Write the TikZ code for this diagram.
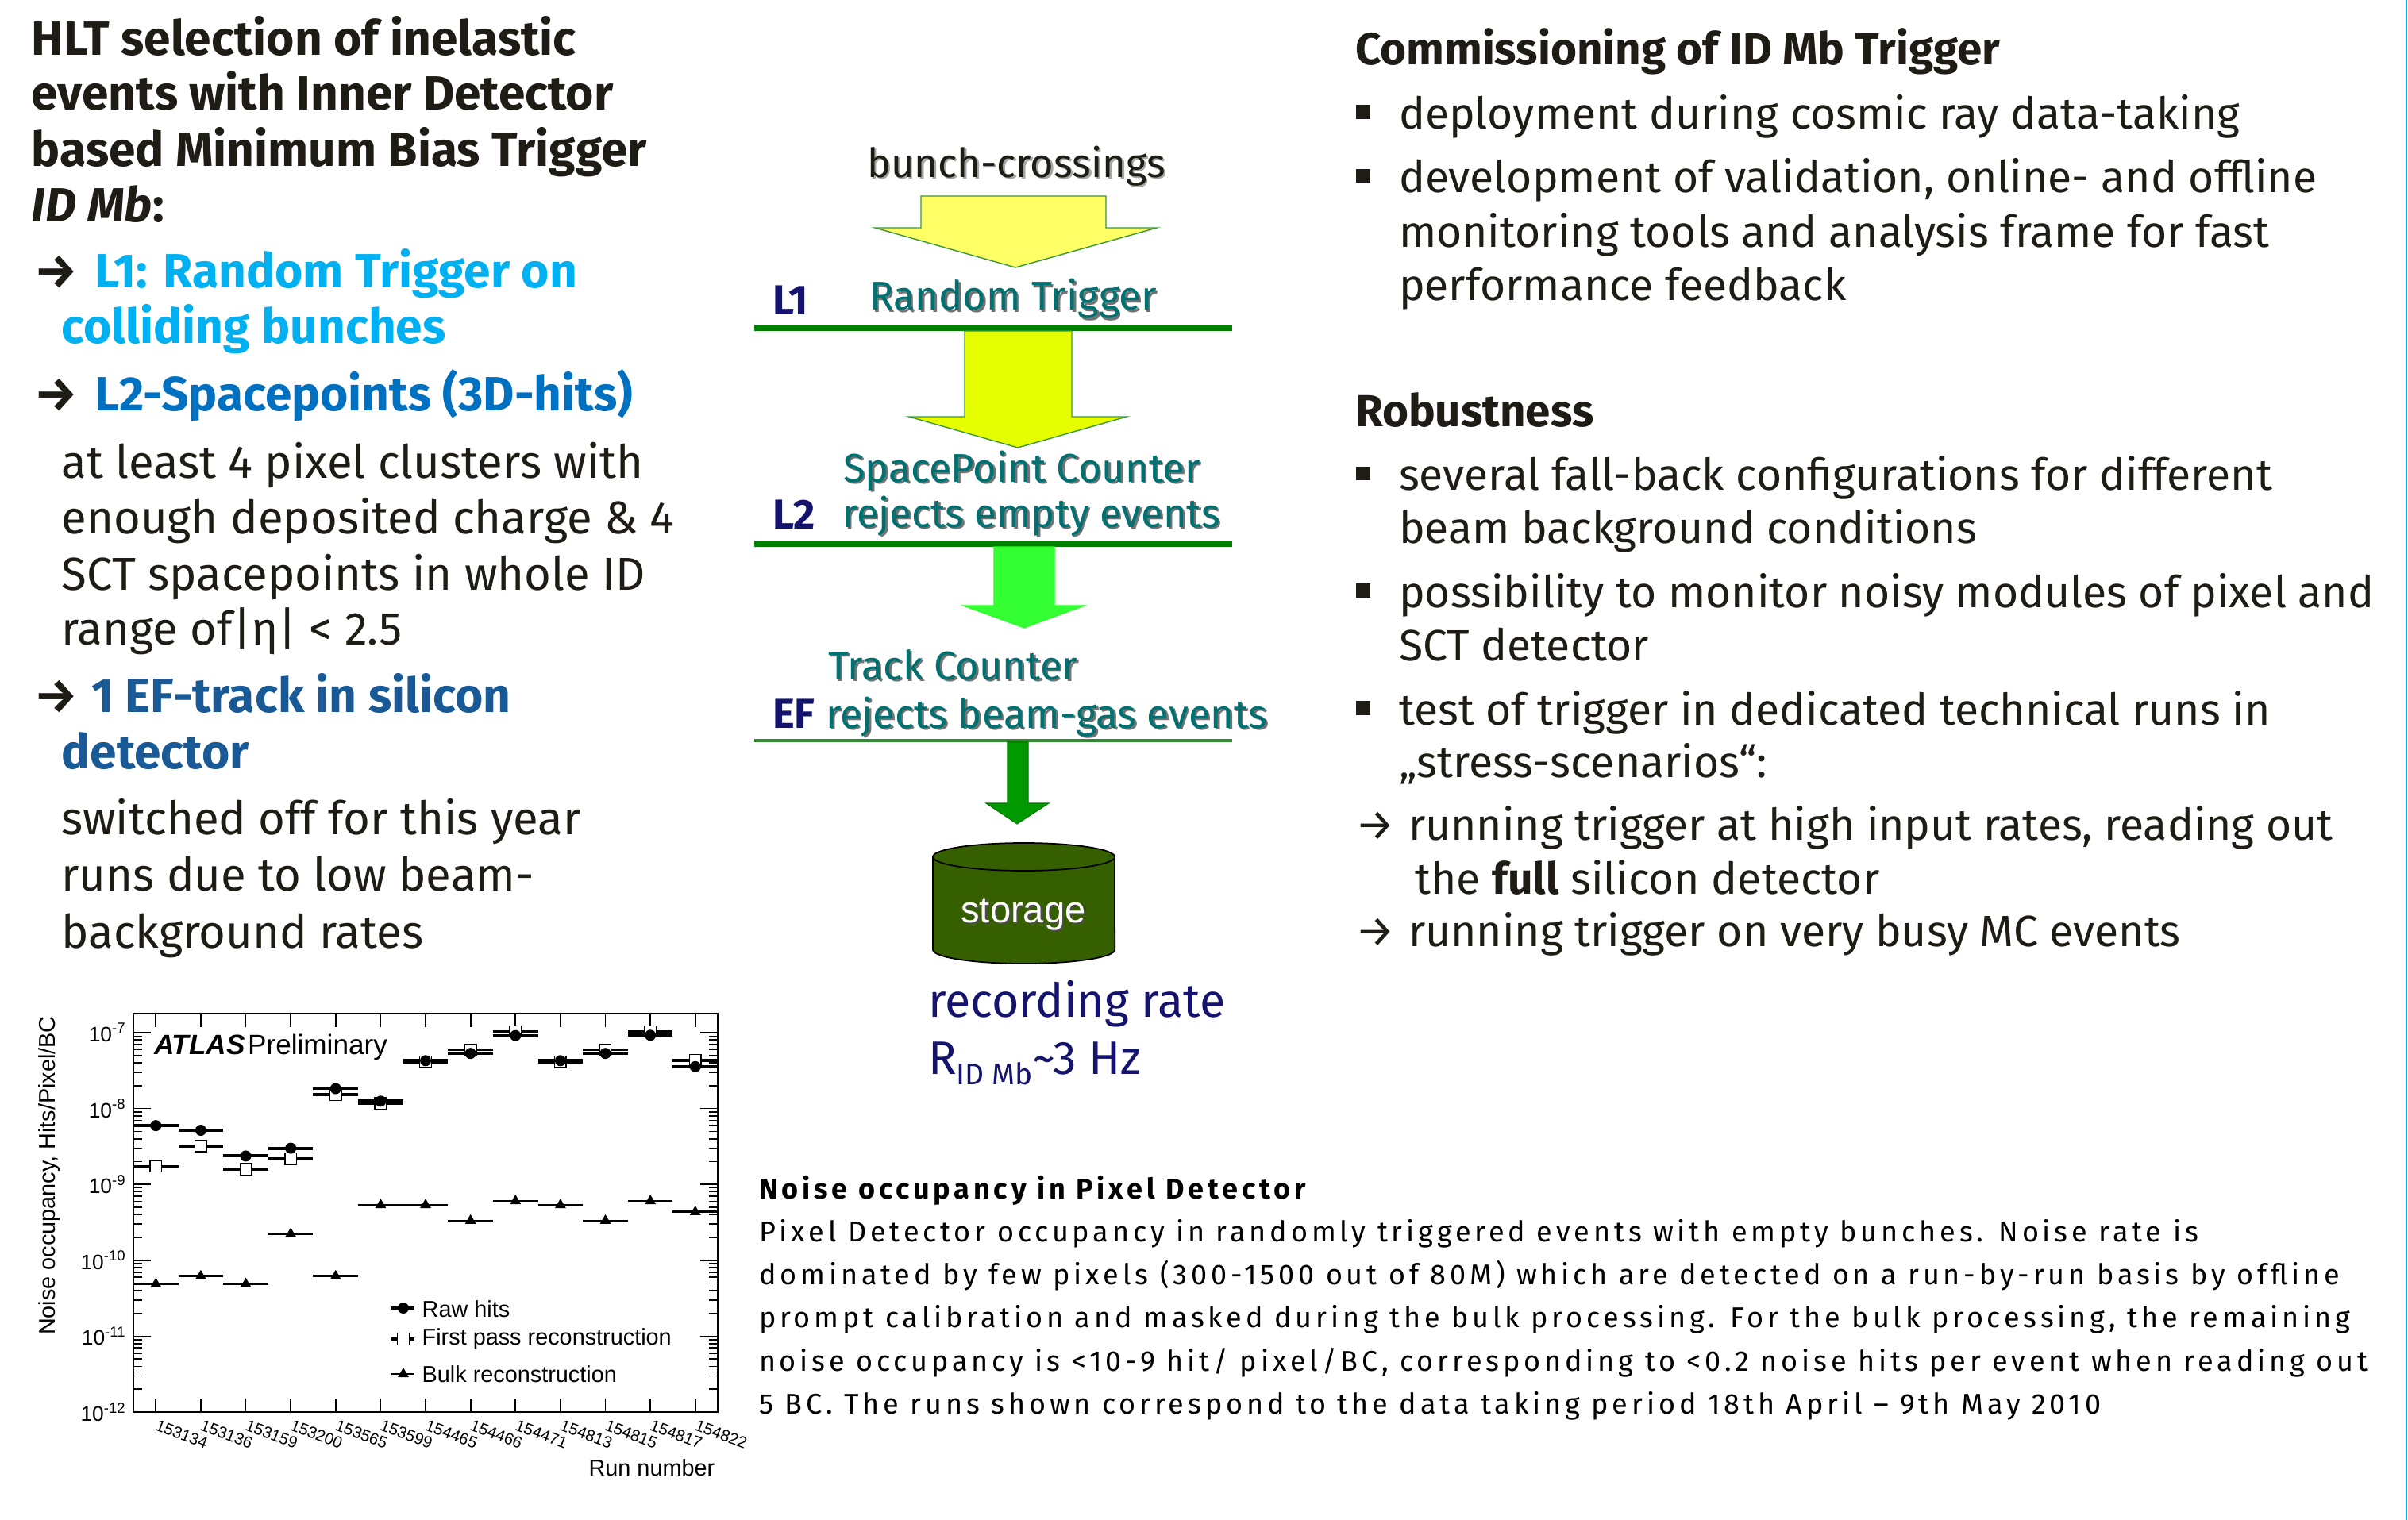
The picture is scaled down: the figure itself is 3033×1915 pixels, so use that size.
\documentclass[tikz,border=0pt]{standalone}
\usepackage{fontspec}
\setmainfont{Fira Sans}
\newfontfamily\libsans{Liberation Sans}
\newfontfamily\firaLS[LetterSpace=13.5]{Fira Sans}
\usetikzlibrary{shapes.geometric}
\definecolor{ink}{RGB}{30,28,20}
\definecolor{cyanL}{RGB}{0,176,240}
\definecolor{blueL}{RGB}{0,112,192}
\definecolor{efblue}{RGB}{25,90,150}
\definecolor{tealT}{RGB}{0,112,112}
\definecolor{navyT}{RGB}{20,20,110}
\definecolor{lgreen}{RGB}{0,128,0}
\definecolor{efgreen}{RGB}{46,139,46}
\definecolor{yelA}{RGB}{255,255,102}
\definecolor{yelB}{RGB}{230,255,0}
\definecolor{grnC}{RGB}{51,255,51}
\definecolor{grnD}{RGB}{0,153,0}
\definecolor{storC}{RGB}{54,96,0}
\definecolor{outl}{RGB}{60,150,60}
\newcommand\fL{\fontsize{16.5pt}{20pt}\selectfont}
\newcommand\fLb{\fontsize{17.2pt}{20pt}\selectfont}
\newcommand\fR{\fontsize{15.7pt}{19pt}\selectfont}
\newcommand\fRb{\fontsize{16.08pt}{19pt}\selectfont}
\newcommand\fF{\fontsize{14.4pt}{17pt}\selectfont}
\newcommand\fRec{\fontsize{16.8pt}{20pt}\selectfont}
\newcommand\fSub{\fontsize{10.6pt}{12pt}\selectfont}
\newcommand\fLab{\fontsize{15pt}{17pt}\selectfont}
\newcommand\fSto{\fontsize{13.4pt}{16pt}\selectfont}
\newcommand\fBt{\fontsize{10.24pt}{12pt}\selectfont}
\newcommand\fTick{\fontsize{7.5pt}{8pt}\selectfont}
\newcommand\fRun{\fontsize{5.8pt}{7pt}\selectfont}
\newcommand\fLeg{\fontsize{8.2pt}{9pt}\selectfont}
\newcommand\fAtl{\fontsize{10pt}{11pt}\selectfont}
\newcommand\fAx{\fontsize{8.2pt}{9pt}\selectfont}
% text with a soft drop shadow
\newcommand\shd[2][black!55]{\makebox[0pt][l]{\kern0.7pt\raisebox{-0.7pt}{\textcolor{#1}{#2}}}#2}
\tikzset{
  txt/.style={anchor=base west, inner sep=0pt, outer sep=0pt},
  ctxt/.style={anchor=base, inner sep=0pt, outer sep=0pt},
  lcol/.style={txt, font=\fL, text=ink},
  lhead/.style={txt, font=\fLb\bfseries, text=ink},
  rcol/.style={txt, font=\fR, text=ink},
  rhead/.style={txt, font=\fRb\bfseries, text=ink},
  bullet/.style={rectangle, fill=ink, inner sep=0pt, minimum size=0.175cm},
  flow/.style={txt, font=\fF, text=tealT},
  lvl/.style={txt, font=\fLab\bfseries, text=navyT},
  btxt/.style={txt, font=\firaLS\fBt, text=black},
  levline/.style={lgreen, line width=2pt},
  frame/.style={black, line width=0.7pt},
  tick/.style={black, line width=0.5pt},
  barA/.style={black, line width=1.1pt},
  barB/.style={black, line width=0.8pt},
  rawm/.style={circle, fill=black, inner sep=0pt, minimum size=0.14cm},
  fpm/.style={rectangle, draw=black, fill=white, line width=0.4pt, inner sep=0pt, minimum size=0.145cm},
  bulkm/.style={regular polygon, regular polygon sides=3, fill=black, inner sep=0pt, minimum size=0.16cm},
  leg/.style={anchor=west, inner sep=0pt, font=\libsans\fLeg},
  runl/.style={anchor=north west, inner sep=0pt, rotate=-21, font=\libsans\fRun},
  ylab/.style={anchor=east, inner sep=0pt, font=\libsans\fTick}
}
\begin{document}
\begin{tikzpicture}[x=0.01cm, y=-0.01cm]
\useasboundingbox (0,0) rectangle (3033,1915);
\fill[white] (0,0) rectangle (3033,1915);
\draw[cyanL, line width=0.6pt] (3031,0) -- (3031,1915);

% ---------------- left column ----------------
\node[lhead] (h1) at (40,69) {HLT selection of inelastic};
\node[lhead] (h2) at (40,138.5) {events with Inner Detector};
\node[lhead] (h3) at (40,209) {based Minimum Bias Trigger};
\node[lhead] (h4) at (40,279) {\textit{ID Mb}:};
\node[lhead] (a1) at (43,362) {→};
\node[lhead, text=cyanL] (l1a) at (120,362) {L1: Random Trigger on};
\node[lhead, text=cyanL] (l1b) at (77.5,432.5) {colliding bunches};
\node[lhead] (a2) at (43,517) {→};
\node[lhead, text=blueL] (l2a) at (120,517) {L2-Spacepoints (3D-hits)};
\node[lcol] (b1) at (77.5,602.5) {at least 4 pixel clusters with};
\node[lcol] (b2) at (77.5,672) {enough deposited charge \& 4};
\node[lcol] (b3) at (77.5,743) {SCT spacepoints in whole ID};
\node[lcol] (b4) at (77.5,812) {range of|η| < 2.5};
\node[lhead] (a3) at (43,897) {→};
\node[lhead, text=efblue] (efa) at (115,897) {1 EF-track in silicon};
\node[lhead, text=efblue] (efb) at (77.5,968.5) {detector};
\node[lcol] (c1) at (77.5,1051) {switched off for this year};
\node[lcol] (c2) at (77.5,1122.5) {runs due to low beam-};
\node[lcol] (c3) at (77.5,1194) {background rates};

% ---------------- right column ----------------
\node[rhead] (rh1) at (1707,81) {Commissioning of ID Mb Trigger};
\node[bullet] (bu1) at (1717,141) {};
\node[rcol] (r1) at (1762,162) {deployment during cosmic ray data-taking};
\node[bullet] (bu2) at (1717,221.4) {};
\node[rcol] (r2) at (1762,242.4) {development of validation, online- and offline};
\node[rcol] (r3) at (1762,311.4) {monitoring tools and analysis frame for fast};
\node[rcol] (r4) at (1762,378.8) {performance feedback};
\node[rhead] (rh2) at (1707,537.6) {Robustness};
\node[bullet] (bu3) at (1717,596.5) {};
\node[rcol] (r5) at (1762,617.5) {several fall-back configurations for different};
\node[rcol] (r6) at (1762,684) {beam background conditions};
\node[bullet] (bu4) at (1717,744) {};
\node[rcol] (r7) at (1762,765) {possibility to monitor noisy modules of pixel and};
\node[rcol] (r8) at (1762,832) {SCT detector};
\node[bullet] (bu5) at (1717,892) {};
\node[rcol] (r9) at (1762,913) {test of trigger in dedicated technical runs in};
\node[rcol] (r10) at (1762,979.6) {„stress-scenarios“:};
\node[rcol] (ra1) at (1707,1058.6) {→};
\node[rcol] (r11) at (1774,1058.6) {running trigger at high input rates, reading out};
\node[rcol] (r12) at (1782.5,1126.5) {the \textbf{full} silicon detector};
\node[rcol] (ra2) at (1707,1192) {→};
\node[rcol] (r13) at (1774,1192) {running trigger on very busy MC events};

% ---------------- flow ----------------
\node[ctxt, font=\fF, text=ink] (bc) at (1280,223) {\shd[black!35]{bunch-crossings}};
\draw[outl, line width=0.4pt, fill=yelA] (1160,247) -- (1393,247) -- (1393,287) -- (1457,287) -- (1279,337) -- (1102,287) -- (1160,287) -- cycle;
\node[ctxt, font=\fF, text=tealT] (rt) at (1276,390.7) {\shd{Random Trigger}};
\node[lvl] (L1) at (973,396) {L1};
\draw[levline] (950,413) -- (1552,413);
\draw[outl, line width=0.4pt, fill=yelB] (1215,417) -- (1350,417) -- (1350,525) -- (1419,525) -- (1282,564) -- (1145,525) -- (1215,525) -- cycle;
\node[ctxt, font=\fF, text=tealT] (spc) at (1287,607) {\shd{SpacePoint Counter}};
\node[lvl] (L2) at (973,666) {L2};
\node[flow] (ree) at (1061,664) {\shd{rejects empty events}};
\draw[levline] (950,685) -- (1552,685);
\draw[grnC!70!green, line width=0.3pt, fill=grnC] (1252,689) -- (1328,689) -- (1328,763) -- (1366,763) -- (1290,791) -- (1213,763) -- (1252,763) -- cycle;
\node[flow] (tc) at (1043,856) {\shd{Track Counter}};
\node[lvl] (EF) at (973,917) {EF};
\node[flow] (rbg) at (1040,917) {\shd{rejects beam-gas events}};
\draw[efgreen, line width=1.1pt] (950,933) -- (1552,933);
\draw[grnD!80!black, line width=0.3pt, fill=grnD] (1269,935) -- (1295,935) -- (1295,1012) -- (1321,1012) -- (1281,1038) -- (1242,1012) -- (1269,1012) -- cycle;
% storage cylinder
\fill[storC] (1175,1079.5) -- (1175,1196.5) arc[start angle=180, end angle=360, x radius=1.145cm, y radius=0.175cm] -- (1404,1079.5) arc[start angle=0, end angle=180, x radius=1.145cm, y radius=0.175cm] -- cycle;
\draw[black, line width=0.5pt] (1175,1079.5) -- (1175,1196.5) arc[start angle=180, end angle=360, x radius=1.145cm, y radius=0.175cm] -- (1404,1079.5);
\draw[black, line width=0.5pt, fill=storC] (1289.5,1079.5) ellipse [x radius=1.145cm, y radius=0.175cm];
\node[ctxt, font=\libsans\fSto, text=white] (sto) at (1289,1162) {\shd[black!70]{storage}};
\node[txt, font=\fRec, text=navyT] (rec1) at (1169,1281) {recording rate};
\node[txt, font=\fRec, text=navyT] (rec2) at (1169,1353) {R\raisebox{-3.7pt}{\fSub ID Mb}\textasciitilde 3 Hz};

% ---------------- bottom text ----------------
\node[btxt, font=\firaLS\fBt\bfseries] (nt0) at (956,1510.5) {Noise occupancy in Pixel Detector};
\node[btxt] (nt1) at (956,1564) {Pixel Detector occupancy in randomly triggered events with empty bunches. Noise rate is};
\node[btxt] (nt2) at (956,1618) {dominated by few pixels (300-1500 out of 80M) which are detected on a run-by-run basis by offline};
\node[btxt] (nt3) at (956,1672) {prompt calibration and masked during the bulk processing. For the bulk processing, the remaining};
\node[btxt] (nt4) at (956,1727.5) {noise occupancy is <10-9 hit/ pixel/BC, corresponding to <0.2 noise hits per event when reading out};
\node[btxt] (nt5) at (956,1781) {5 BC. The runs shown correspond to the data taking period 18th April – 9th May 2010};

% ---------------- plot ----------------
\draw[frame] (168,1277) rectangle (904,1779);
\foreach \d in {0,...,5} {
  \draw[tick] (168,{1779-\d*95.6}) -- (190,{1779-\d*95.6});
  \draw[tick] (904,{1779-\d*95.6}) -- (882,{1779-\d*95.6});
}
\foreach \d in {0,...,4} {
  \foreach \m in {2,...,9} {
    \draw[tick] (168,{1779-(\d+log10(\m))*95.6}) -- (179,{1779-(\d+log10(\m))*95.6});
    \draw[tick] (904,{1779-(\d+log10(\m))*95.6}) -- (893,{1779-(\d+log10(\m))*95.6});
  }
}
\node[ylab] (y12) at (160,1779) {10\textsuperscript{-12}};
\node[ylab] (y11) at (160,1683.4) {10\textsuperscript{-11}};
\node[ylab] (y10) at (160,1587.8) {10\textsuperscript{-10}};
\node[ylab] (y9) at (160,1492.2) {10\textsuperscript{-9}};
\node[ylab] (y8) at (160,1396.6) {10\textsuperscript{-8}};
\node[ylab] (y7) at (160,1301) {10\textsuperscript{-7}};
\node[rotate=90, inner sep=0pt, font=\libsans\fAx] (ytitle) at (62,1481) {Noise occupancy, Hits/Pixel/BC};
\node[anchor=base east, inner sep=0pt, font=\libsans\fAx] (xtitle) at (901,1859) {Run number};
\node[txt, font=\libsans\fAtl] (atlas) at (194,1328) {\textbf{\textit{ATLAS}}\kern1pt Preliminary};
\foreach \i/\run in {0/153134,1/153136,2/153159,3/153200,4/153565,5/153599,6/154465,7/154466,8/154471,9/154813,10/154815,11/154817,12/154822} {
  \pgfmathsetmacro\cx{168+(\i+0.5)*56.62}
  \draw[tick] (\cx,1779) -- (\cx,1762);
  \draw[tick] (\cx,1277) -- (\cx,1294);
  \node[runl] (run\i) at ({\cx+3},1787) {\run};
}
\foreach \i/\r/\p/\b in {0/1418.1/1469.5/1617.7, 1/1424.0/1443.8/1607.8, 2/1456.4/1473.4/1617.7, 3/1446.6/1459.6/1554.5, 4/1371.5/1379.4/1607.8, 5/1387.3/1390.4/1518.1, 6/1336.3/1337.9/1518.1, 7/1327.2/1322.5/1537.9, 8/1304.7/1299.5/1513.0, 9/1336.3/1337.9/1518.1, 10/1327.2/1322.5/1537.9, 11/1304.3/1299.5/1513.0, 12/1343.8/1335.9/1526.8} {
  \pgfmathsetmacro\cx{168+(\i+0.5)*56.62}
  \pgfmathsetmacro\xl{168+\i*56.62}
  \pgfmathsetmacro\xr{168+(\i+1)*56.62}
  \draw[barB] (\xl,\b) -- (\xr,\b);
  \node[bulkm] (bk\i) at (\cx,\b) {};
  \draw[barA] (\xl,\p) -- (\xr,\p);
  \draw[barA] (\xl,\r) -- (\xr,\r);
  \node[fpm] (fp\i) at (\cx,\p) {};
  \node[rawm] (rw\i) at (\cx,\r) {};
}
% legend
\draw[barA] (493,1648) -- (522,1648);
\node[rawm] (lgr) at (508,1648) {};
\node[leg] (lgrt) at (531,1649) {Raw hits};
\draw[barA] (493,1687) -- (522,1687);
\node[fpm] (lgf) at (508,1687) {};
\node[leg] (lgft) at (531,1687) {First pass reconstruction};
\draw[barB] (493,1731) -- (522,1731);
\node[bulkm] (lgb) at (508,1731) {};
\node[leg] (lgbt) at (531,1731) {Bulk reconstruction};
\end{tikzpicture}
\end{document}
